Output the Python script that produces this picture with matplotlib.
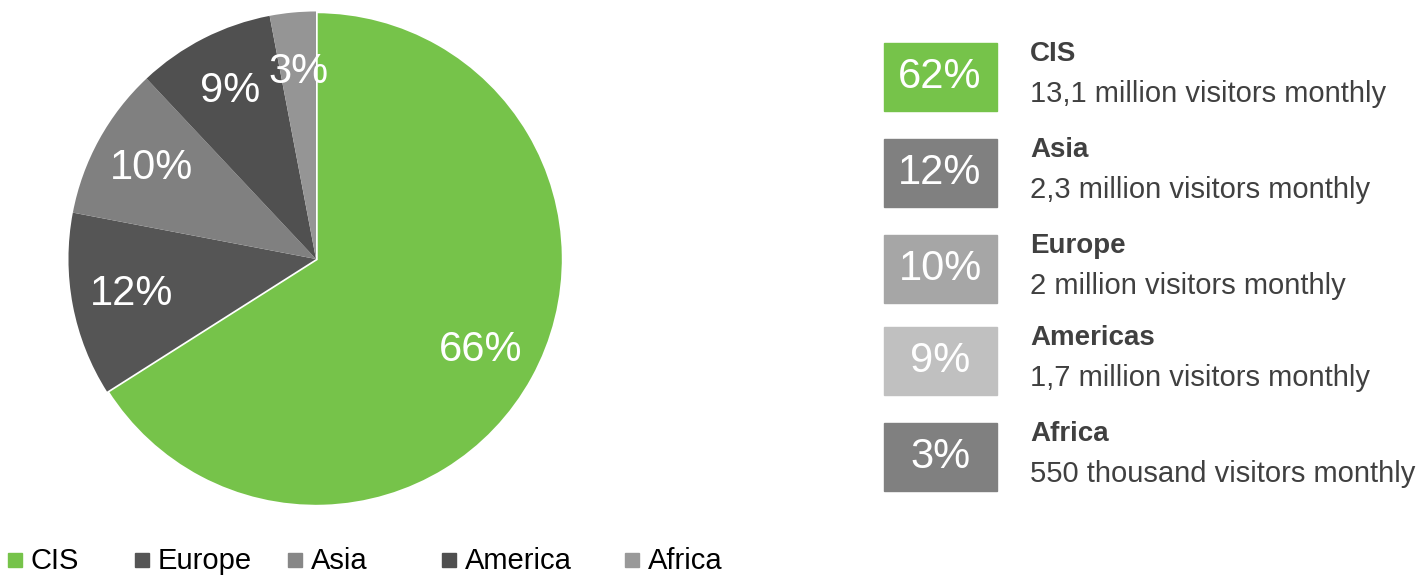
import matplotlib.pyplot as plt
from matplotlib.patches import Rectangle

plt.rcParams["font.family"] = ["Liberation Sans", "DejaVu Sans"]

# pie data
regions = ["CIS", "Europe", "Asia", "America", "Africa"]
shares = [66, 12, 10, 9, 3]
pie_colors = ["#76c34a", "#555555", "#808080", "#505050", "#959595"]
legend_colors = ["#76c34a", "#555555", "#878787", "#4f4f4f", "#999999"]

# side panel data
panel_pcts = ["62%", "12%", "10%", "9%", "3%"]
panel_names = ["CIS", "Asia", "Europe", "Americas", "Africa"]
panel_notes = ["13,1 million visitors monthly", "2,3 million visitors monthly",
               "2 million visitors monthly", "1,7 million visitors monthly",
               "550 thousand visitors monthly"]
panel_colors = ["#76c34a", "#808080", "#a6a6a6", "#c0c0c0", "#808080"]

W, H = 1422, 576
fig = plt.figure(figsize=(W / 100, H / 100), dpi=100)

# pie, centre (316, 259) px, radius 250 px
cx, cy, r = 316, 259, 250
ax = fig.add_axes([(cx - r) / W, (H - cy - r) / H, 2 * r / W, 2 * r / H])
wedges, texts, autotexts = ax.pie(
    shares, colors=pie_colors, startangle=90, counterclock=False,
    autopct=lambda p: f"{p:.0f}%", pctdistance=0.76,
    textprops=dict(color="white", fontsize=30),
    wedgeprops=dict(linewidth=0))
wedges[0].set_edgecolor("white")
wedges[0].set_linewidth(2.5)
ax.set_xlim(-1.01, 1.01)
ax.set_ylim(-1.01, 1.01)

# overlay in pixel coords
ov = fig.add_axes([0, 0, 1, 1])
ov.set_xlim(0, W)
ov.set_ylim(H, 0)
ov.axis("off")

box_tops = [43, 139, 235, 327, 423]
for i in range(len(panel_pcts)):
    top = box_tops[i]
    ov.add_patch(Rectangle((884, top), 113, 68, color=panel_colors[i]))
    ov.text(940, top + 34, panel_pcts[i], color="white", fontsize=30,
            ha="center", va="center")
    ov.text(1030, top + 11, panel_names[i], color="#404040", fontsize=20,
            fontweight="bold", ha="left", va="center")
    ov.text(1030, top + 51, panel_notes[i], color="#404040", fontsize=21,
            ha="left", va="center")

# legend along the bottom
leg_x = [8, 135, 288, 442, 625]
for i in range(len(regions)):
    ov.add_patch(Rectangle((leg_x[i], 553), 14, 14, color=legend_colors[i]))
    ov.text(leg_x[i] + 23, 561, regions[i], color="black", fontsize=21,
            ha="left", va="center")

fig.savefig("out.png", dpi=100)
